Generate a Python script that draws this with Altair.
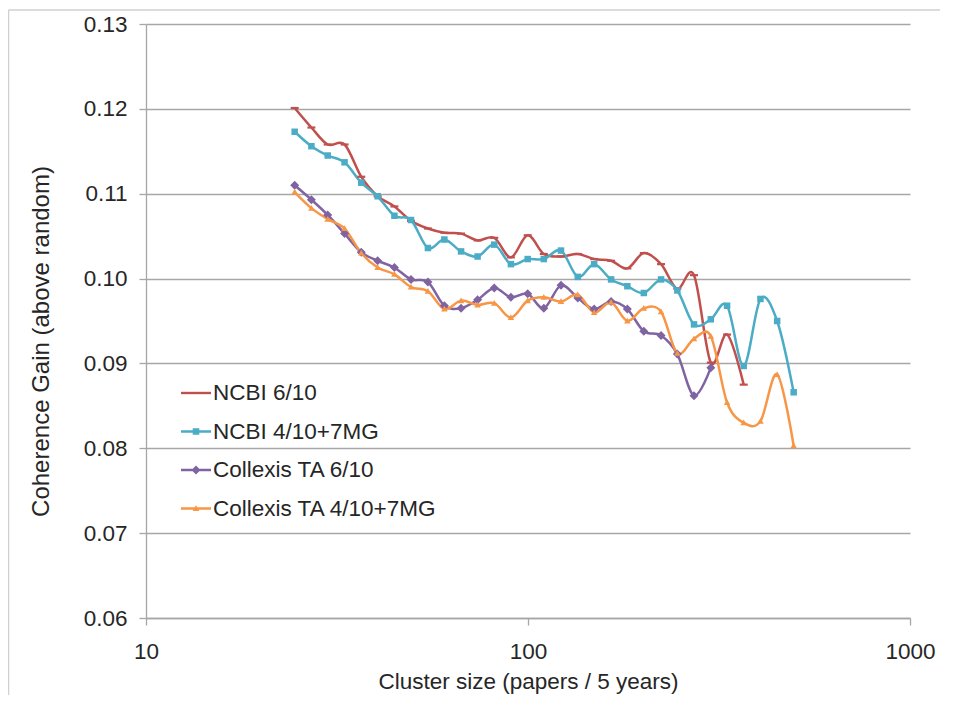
import altair as alt
import pandas as pd

# ---- data ----
cluster_size = [24.5, 27.1, 29.9, 33.1, 36.6, 40.4, 44.7, 49.4, 54.7, 60.4, 66.8, 73.8,
                81.6, 90.2, 99.8, 110, 122, 135, 149, 165, 182, 201, 223, 246, 272,
                301, 332, 367, 406, 449, 496]

ncbi_6_10 = [0.1201, 0.1178, 0.1158, 0.1158, 0.1120, 0.1097, 0.1085, 0.1068, 0.1059,
             0.1054, 0.1053, 0.1045, 0.1048, 0.1025, 0.1051, 0.1029, 0.1026, 0.1029,
             0.1023, 0.1021, 0.1012, 0.1030, 0.1017, 0.0988, 0.1004, 0.0901, 0.0934,
             0.0875]
ncbi_4_10_7mg = [0.1173, 0.1156, 0.1145, 0.1137, 0.1113, 0.1097, 0.1074, 0.1069, 0.1036,
                 0.1046, 0.1032, 0.1026, 0.1040, 0.1017, 0.1023, 0.1023, 0.1033, 0.1002,
                 0.1017, 0.0999, 0.0991, 0.0983, 0.0999, 0.0986, 0.0946, 0.0952, 0.0968,
                 0.0897, 0.0976, 0.0950, 0.0866]
collexis_6_10 = [0.1110, 0.1093, 0.1075, 0.1053, 0.1031, 0.1021, 0.1013, 0.0999, 0.0996,
                 0.0968, 0.0965, 0.0975, 0.0989, 0.0978, 0.0982, 0.0965, 0.0992, 0.0977,
                 0.0964, 0.0973, 0.0964, 0.0938, 0.0933, 0.0911, 0.0862, 0.0895]
collexis_4_10_7mg = [0.1102, 0.1083, 0.1070, 0.1059, 0.1030, 0.1013, 0.1005, 0.0990,
                     0.0985, 0.0964, 0.0974, 0.0969, 0.0971, 0.0954, 0.0974, 0.0978,
                     0.0973, 0.0981, 0.0960, 0.0972, 0.0950, 0.0965, 0.0961, 0.0912,
                     0.0929, 0.0932, 0.0854, 0.0830, 0.0832, 0.0887, 0.0803]

series_names = ["NCBI 6/10", "NCBI 4/10+7MG", "Collexis TA 6/10", "Collexis TA 4/10+7MG"]
series_values = [ncbi_6_10, ncbi_4_10_7mg, collexis_6_10, collexis_4_10_7mg]
series_colors = ["#C0504D", "#4BACC6", "#8064A2", "#F79646"]

y_ticks = [0.06, 0.07, 0.08, 0.09, 0.10, 0.11, 0.12, 0.13]
x_ticks = [10, 100, 1000]

# marker shapes (unit paths) for the data points
marker_paths = [
    "M-0.8,-0.22H0.8V0.22H-0.8Z",
    "M-0.65,-0.65H0.65V0.65H-0.65Z",
    "M0,-0.9L0.9,0L0,0.9L-0.9,0Z",
    "M0,-0.65L0.65,0.5L-0.65,0.5Z",
]
# legend symbols: line + marker
legend_paths = [
    "M-1,-0.08H1V0.08H-1Z",
    "M-1,-0.08H1V0.08H-1Z M-0.22,-0.22H0.22V0.22H-0.22Z",
    "M-1,-0.08H1V0.08H-1Z M0,-0.3L0.3,0L0,0.3L-0.3,0Z",
    "M-1,-0.08H1V0.08H-1Z M0,-0.22L0.22,0.16L-0.22,0.16Z",
]

rows = []
for name, vals in zip(series_names, series_values):
    for i, v in enumerate(vals):
        rows.append({"series": name, "size": cluster_size[i], "gain": v, "idx": i})
df = pd.DataFrame(rows)

TEXT = "#262626"
AXIS_GRAY = "#A6A6A6"
FS = 22.5

x_enc = alt.X(
    "size:Q",
    scale=alt.Scale(type="log", domain=[10, 1000]),
    axis=alt.Axis(
        values=x_ticks, format="d", grid=False,
        title="Cluster size (papers / 5 years)",
        labelFontSize=FS, titleFontSize=FS, labelColor=TEXT, titleColor=TEXT,
        titleFontWeight="normal", domainColor=AXIS_GRAY, tickColor=AXIS_GRAY,
        domainWidth=1.3, tickWidth=1.3, tickSize=7, labelPadding=15, titlePadding=8,
        labelFlush=False,
    ),
)
y_enc = alt.Y(
    "gain:Q",
    scale=alt.Scale(domain=[0.06, 0.13], nice=False, zero=False),
    axis=alt.Axis(
        values=y_ticks, format=".2f", grid=True, gridColor=AXIS_GRAY, gridWidth=1.3,
        title="Coherence Gain (above random)",
        labelFontSize=FS, titleFontSize=24, labelColor=TEXT, titleColor=TEXT,
        titleFontWeight="normal", domainColor=AXIS_GRAY, tickColor=AXIS_GRAY,
        domainWidth=1.3, tickWidth=1.3, tickSize=7, labelPadding=12, titlePadding=30,
        titleY=317,
    ),
)

color_scale = alt.Scale(domain=series_names, range=series_colors)

lines = alt.Chart(df).mark_line(interpolate="cardinal", strokeWidth=2.5).encode(
    x=x_enc, y=y_enc,
    color=alt.Color("series:N", scale=color_scale, legend=None),
    detail="series:N",
    order="idx:Q",
)

points = alt.Chart(df).mark_point(filled=True, size=100, opacity=1).encode(
    x=x_enc, y=y_enc,
    color=alt.Color("series:N", scale=color_scale, legend=None),
    shape=alt.Shape("series:N", scale=alt.Scale(domain=series_names, range=marker_paths),
                    legend=None),
)

leg = dict(orient="none", legendX=35, legendY=354, padding=0, title=None,
           labelFontSize=FS, labelColor=TEXT, symbolSize=900, symbolStrokeWidth=0,
           rowPadding=11.5, labelOffset=2, labelLimit=500)

legend_layer = alt.Chart(df).transform_filter("false").mark_point(
    filled=True, size=900, opacity=1
).encode(
    x=x_enc, y=y_enc,
    color=alt.Color("series:N", scale=color_scale, legend=alt.Legend(**leg)),
    shape=alt.Shape("series:N", scale=alt.Scale(domain=series_names, range=legend_paths),
                    legend=alt.Legend(**leg)),
)

frame_df = pd.DataFrame({"k": [0]})
border_left = alt.Chart(frame_df).mark_rule(color="#D0D0D0", strokeWidth=1.5).encode(
    x=alt.value(-137.5), y=alt.value(-14), y2=alt.value(700)
)
border_top = alt.Chart(frame_df).mark_rule(color="#D0D0D0", strokeWidth=1.5).encode(
    x=alt.value(-137.5), x2=alt.value(830), y=alt.value(-14)
)

chart = alt.layer(border_left, border_top, lines, points, legend_layer).resolve_scale(
    color="independent", shape="independent"
).properties(
    width=764, height=594,
    autosize=alt.AutoSizeParams(type="none"),
    padding={"left": 138, "top": 16, "right": 30, "bottom": 77},
).configure(
    font="Liberation Sans",
).configure_view(
    strokeOpacity=0,
)

chart.save("out.html", embed_options={"renderer": "svg", "actions": False})
